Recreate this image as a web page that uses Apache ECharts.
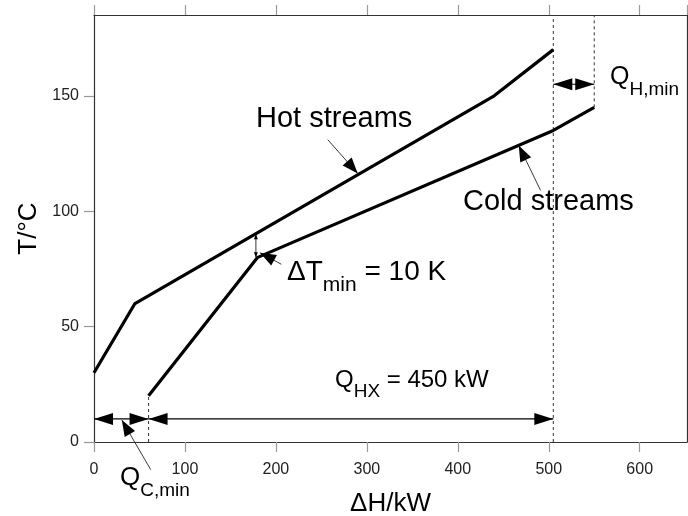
<!DOCTYPE html>
<html><head><meta charset="utf-8">
<script src="https://cdn.jsdelivr.net/npm/echarts@6/dist/echarts.min.js"></script>
<style>html,body{margin:0;padding:0;background:#fff}#c{width:688px;height:516px}</style>
</head><body><div id="c"></div>
<script>
// ---- data ----
const hotH  = [0, 45, 440, 505];
const hotT  = [30, 60, 150, 170];
const coldH = [60, 180, 505, 550];
const coldT = [20, 80, 135, 145];
const xTicks = [0, 100, 200, 300, 400, 500, 600];
const yTicks = [0, 50, 100, 150];
// dashed guide lines [H1,T1,H2,T2]
const guideLines = [[505, 0, 505, 185], [550, 145, 550, 185], [60, 0, 60, 20]];
// double-headed dimension arrows [H1,T1,H2,T2]
const dimArrows = [[0, 10, 60, 10], [60, 10, 505, 10], [505, 155, 550, 155]];
const dTArrows = [[178, 80, 178, 90]];
// leader arrows [fromH,fromT,tipH,tipT]
const leaders = [[257, 131, 290, 116.3], [491, 109, 467, 128.5], [206, 77, 182.5, 82], [62.4, -12, 30.6, 9.5]];

const FONT = 'Liberation Sans, Arial, sans-serif';
const chart = echarts.init(document.getElementById('c'), null, {renderer: 'canvas'});

function zip(a, b) { return a.map((v, i) => [v, b[i]]); }

function headPts(tip, from, L, W) {
  const dx = tip[0] - from[0], dy = tip[1] - from[1];
  const len = Math.hypot(dx, dy) || 1;
  const ux = dx / len, uy = dy / len;
  const bx = tip[0] - ux * L, by = tip[1] - uy * L;
  const px = -uy * W / 2, py = ux * W / 2;
  return [[tip[0], tip[1]], [bx + px, by + py], [bx - px, by - py]];
}

function arrowRenderer(kind) {
  return function (params, api) {
    const p1 = api.coord([api.value(0), api.value(1)]);
    const p2 = api.coord([api.value(2), api.value(3)]);
    const children = [];
    if (kind === 'guide') {
      children.push({type: 'line', shape: {x1: p1[0], y1: p1[1], x2: p2[0], y2: p2[1]},
        style: {stroke: '#333', lineWidth: 1, lineDash: [3, 3]}});
    } else if (kind === 'dim' || kind === 'dt') {
      const L = kind === 'dim' ? 19 : 5, W = kind === 'dim' ? 12 : 4;
      children.push({type: 'line', shape: {x1: p1[0], y1: p1[1], x2: p2[0], y2: p2[1]},
        style: {stroke: '#000', lineWidth: kind === 'dim' ? 1.2 : 0.8}});
      children.push({type: 'polygon', shape: {points: headPts(p1, p2, L, W)}, style: {fill: '#000'}});
      children.push({type: 'polygon', shape: {points: headPts(p2, p1, L, W)}, style: {fill: '#000'}});
    } else {
      children.push({type: 'line', shape: {x1: p1[0], y1: p1[1], x2: p2[0], y2: p2[1]},
        style: {stroke: '#222', lineWidth: 0.9}});
      children.push({type: 'polygon', shape: {points: headPts(p2, p1, 16, 12)}, style: {fill: '#000'}});
    }
    return {type: 'group', children: children};
  };
}

function customSeries(kind, data) {
  return {type: 'custom', renderItem: arrowRenderer(kind), data: data, clip: false, silent: true,
    encode: {x: [0, 2], y: [1, 3]}, z: 5};
}

const axisLineStyle = {color: '#333', width: 1.2};
const tickStyle = {color: '#999', width: 1.2};

function subLabel(main, sub, rest, fm, fs, pad) {
  return {
    text: '{m|' + main + '}{s|' + sub + '}' + (rest ? '{m|' + rest + '}' : ''), fill: '#000',
    rich: {m: {fontSize: fm, fontFamily: FONT, padding: [0, 0, pad, 0], verticalAlign: 'bottom'},
           s: {fontSize: fs, fontFamily: FONT, verticalAlign: 'bottom'}}
  };
}

const option = {
  animation: false,
  backgroundColor: '#fff',
  grid: {left: 94, right: 1, top: 15, bottom: 74, containLabel: false, outerBoundsMode: 'none'},
  xAxis: [{
    type: 'value', min: 0, max: 652, interval: 100, position: 'bottom',
    axisLine: {show: true, onZero: false, lineStyle: axisLineStyle},
    axisTick: {show: true, length: 10, lineStyle: tickStyle},
    axisLabel: {show: true, fontSize: 16, color: '#222', fontFamily: FONT, margin: 20,
      showMaxLabel: false, formatter: v => xTicks.includes(v) ? String(v) : ''},
    splitLine: {show: false},
    name: 'ΔH/kW', nameLocation: 'middle', nameGap: 49,
    nameTextStyle: {fontSize: 26, color: '#000', fontFamily: FONT}
  }, {
    type: 'value', min: 0, max: 652, interval: 100, position: 'top',
    axisLine: {show: true, onZero: false, lineStyle: axisLineStyle},
    axisTick: {show: true, length: 10, lineStyle: tickStyle},
    axisLabel: {show: false}, splitLine: {show: false}
  }],
  yAxis: [{
    type: 'value', min: 0, max: 185, interval: 50, position: 'left',
    axisLine: {show: true, onZero: false, lineStyle: axisLineStyle},
    axisTick: {show: true, length: 10, lineStyle: tickStyle},
    axisLabel: {show: true, fontSize: 16, color: '#222', fontFamily: FONT, margin: 15,
      showMaxLabel: false, formatter: v => yTicks.includes(v) ? String(v) : ''},
    splitLine: {show: false},
    name: 'T/°C', nameLocation: 'middle', nameGap: 51, nameRotate: 90,
    nameTextStyle: {fontSize: 26, color: '#000', fontFamily: FONT}
  }, {
    type: 'value', min: 0, max: 185, interval: 50, position: 'right',
    axisLine: {show: true, onZero: false, lineStyle: axisLineStyle},
    axisTick: {show: false}, axisLabel: {show: false}, splitLine: {show: false}
  }],
  series: [
    {type: 'line', name: 'Hot streams', data: zip(hotH, hotT), showSymbol: false, symbol: 'none',
      lineStyle: {color: '#000', width: 3.2}, z: 6},
    {type: 'line', name: 'Cold streams', data: zip(coldH, coldT), showSymbol: false, symbol: 'none',
      lineStyle: {color: '#000', width: 3.2}, z: 6},
    customSeries('guide', guideLines),
    customSeries('dim', dimArrows),
    customSeries('dt', dTArrows),
    customSeries('leader', leaders)
  ],
  graphic: [
    {type: 'text', left: 256, top: 104, style: {text: 'Hot streams', font: '29px ' + FONT, fill: '#000'}},
    {type: 'text', left: 463, top: 187, style: {text: 'Cold streams', font: '29px ' + FONT, fill: '#000'}},
    {type: 'text', left: 287, top: 258, style: subLabel('ΔT', 'min', ' = 10 K', 28, 21, 10)},
    {type: 'text', left: 335, top: 368, style: subLabel('Q', 'HX', ' = 450 kW', 24, 19, 9)},
    {type: 'text', left: 610, top: 65, style: subLabel('Q', 'H,min', '', 25, 19, 9)},
    {type: 'text', left: 120, top: 465, style: subLabel('Q', 'C,min', '', 26, 19, 9)}
  ]
};
chart.setOption(option);
</script></body></html>
